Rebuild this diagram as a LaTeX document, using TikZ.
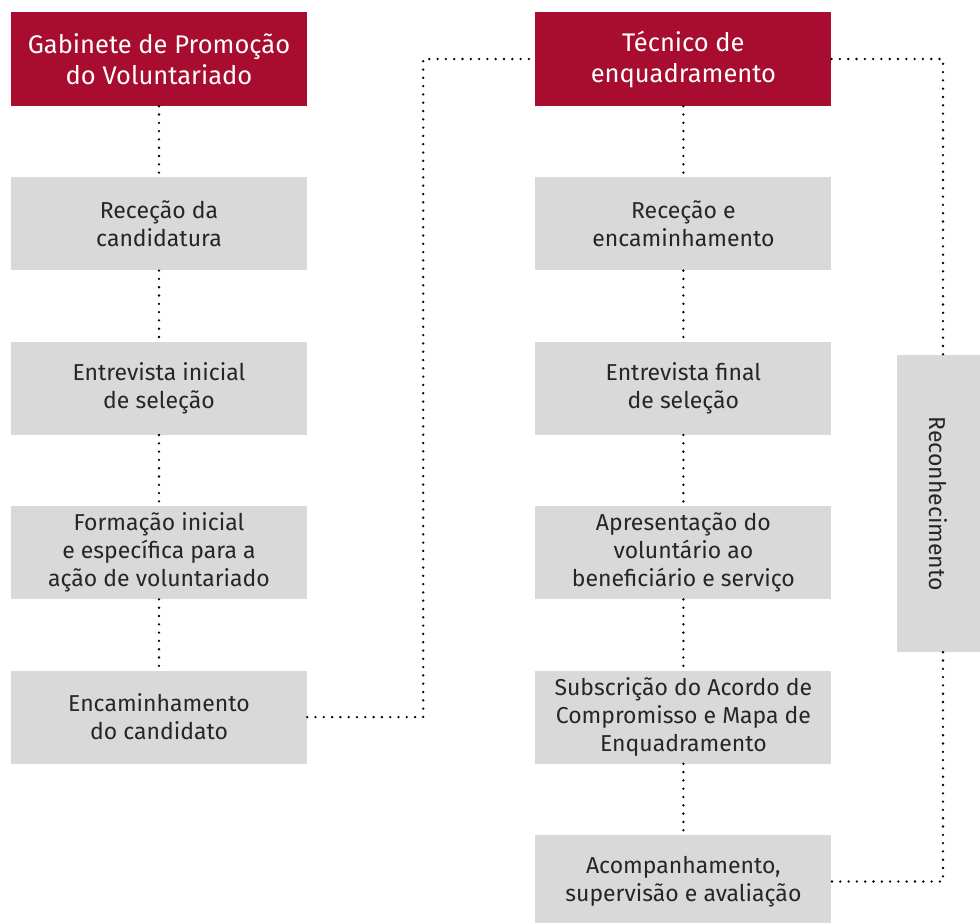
\documentclass[tikz,border=0pt]{standalone}
\usepackage{fontspec}
\setmainfont{Fira Sans}
\usepackage{xcolor}
\usetikzlibrary{positioning}
\definecolor{gabred}{HTML}{A80C2E}
\definecolor{boxgray}{HTML}{D9D9D9}

\begin{document}
\begin{tikzpicture}[x=1pt,y=1pt,
    node distance=71pt and 228pt,
    hdr/.style={rectangle, fill=gabred, text=white, minimum width=296pt, minimum height=94pt, align=center, font=\fontsize{25.5}{31}\selectfont},
    stage/.style={rectangle, fill=boxgray, text=black!85, minimum width=296pt, minimum height=93pt, align=center, font=\fontsize{23}{28}\selectfont},
    dots/.style={line width=2.6pt, line cap=round, dash pattern=on 0pt off 8.3pt}
  ]
    \useasboundingbox (0,0) rectangle (980,-922);
    % left column
    \node[hdr] (gab) at (159,-59) {Gabinete de Promoção\\do Voluntariado};
    \node[stage, below=of gab] (rcand) {Receção da\\candidatura};
    \node[stage, below=of rcand] (entini) {Entrevista inicial\\de seleção};
    \node[stage, below=of entini] (form) {Formação inicial\\e específica para a\\ação de voluntariado};
    \node[stage, below=of form] (encam) {Encaminhamento\\do candidato};
    % right column
    \node[hdr, right=of gab] (tec) {Técnico de\\enquadramento};
    \node[stage, below=of tec] (rencam) {Receção e\\encaminhamento};
    \node[stage, below=of rencam] (entfin) {Entrevista final\\de seleção};
    \node[stage, below=of entfin] (apres) {Apresentação do\\voluntário ao\\beneficiário e serviço};
    \node[stage, below=of apres] (subs) {Subscrição do Acordo de\\Compromisso e Mapa de\\Enquadramento};
    \node[stage, below=of subs] (acomp) {Acompanhamento,\\supervisão e avaliação};
    % side box
    \node[stage, minimum width=297pt, minimum height=83pt, rotate=-90] (recon) at (938.5,-503.5) {Reconhecimento};

    \draw[dots] (gab) -- (rcand) -- (entini) -- (form) -- (encam);
    \draw[dots] (tec) -- (rencam) -- (entfin) -- (apres) -- (subs) -- (acomp);
    \draw[dots] (encam.east) -| ([xshift=-112pt]tec.west) -- (tec.west);
    \draw[dots] (tec.east) -| ([xshift=4.5pt]recon.west);
    \draw[dots] ([xshift=4.5pt]recon.east) |- (acomp.east);
\end{tikzpicture}
\end{document}
